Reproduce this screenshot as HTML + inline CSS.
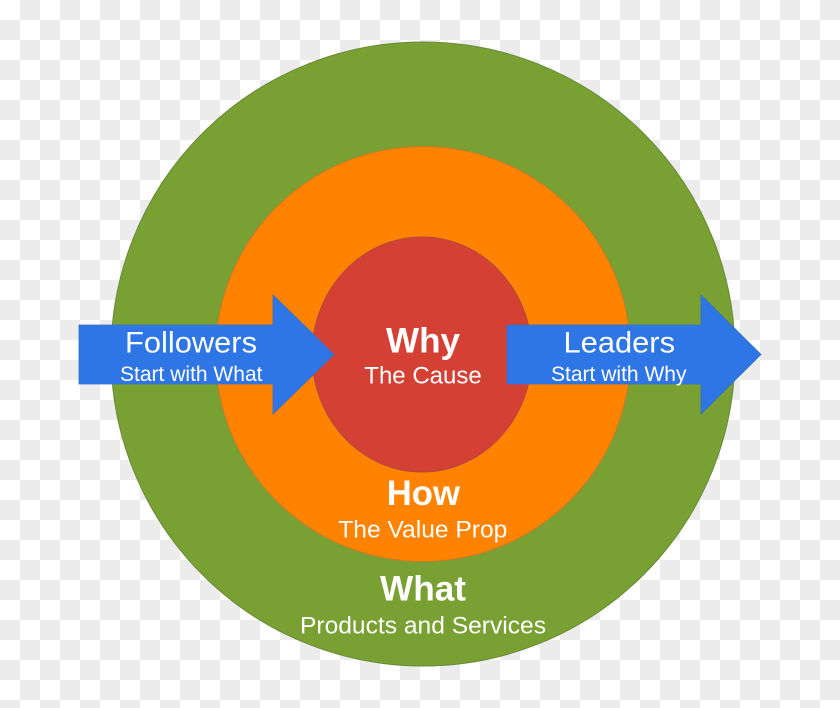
<!DOCTYPE html>
<html>
<head>
<meta charset="utf-8">
<style>
  html, body { margin: 0; padding: 0; background: #ffffff; }
  body { width: 840px; height: 708px; overflow: hidden; font-family: "Liberation Sans", Arial, Helvetica, sans-serif; }
  svg { display: block; }
  svg text { font-family: "Liberation Sans", Arial, Helvetica, sans-serif; fill: #ffffff; }
</style>
</head>
<body>
<svg width="840" height="708" viewBox="0 0 840 708" xmlns="http://www.w3.org/2000/svg" font-family="Liberation Sans, Arial, Helvetica, sans-serif">
  <defs>
    <pattern id="chk" x="0" y="0" width="40" height="40" patternUnits="userSpaceOnUse">
      <rect x="0" y="0" width="40" height="40" fill="#ffffff"/>
      <rect x="20" y="0" width="20" height="20" fill="#ececec"/>
      <rect x="0" y="20" width="20" height="20" fill="#ececec"/>
    </pattern>
  </defs>
  <rect x="0" y="0" width="840" height="708" fill="url(#chk)"/>

  <!-- Outer: What -->
  <circle cx="423" cy="354" r="312" fill="#78a032" stroke="#6a8a3a" stroke-width="1"/>
  <!-- Middle: How -->
  <circle cx="423" cy="354" r="207.5" fill="#ff8200" stroke="#c87a2a" stroke-width="1"/>
  <!-- Inner: Why -->
  <ellipse cx="422" cy="354.5" rx="110" ry="117.5" fill="#d54034" stroke="#b04a3a" stroke-width="1"/>

  <!-- Left arrow -->
  <polygon points="79,325 273,325 273,295 334,354.5 273,414 273,384 79,384" fill="#2e76e6" stroke="#3a6fbf" stroke-width="0.8"/>
  <!-- Right arrow -->
  <polygon points="507,325 701,325 701,295 761,354.5 701,414 701,384 507,384" fill="#2e76e6" stroke="#3a6fbf" stroke-width="0.8"/>

  <!-- Arrow labels -->
  <text x="125" y="352.5" font-family="Liberation Sans, Arial, sans-serif" fill="#ffffff" font-size="29.5" textLength="132" lengthAdjust="spacingAndGlyphs">Followers</text>
  <text x="120" y="381" font-family="Liberation Sans, Arial, sans-serif" fill="#ffffff" font-size="21" textLength="142.5" lengthAdjust="spacingAndGlyphs">Start with What</text>
  <text x="563.5" y="352.5" font-family="Liberation Sans, Arial, sans-serif" fill="#ffffff" font-size="29.5" textLength="111.5" lengthAdjust="spacingAndGlyphs">Leaders</text>
  <text x="551" y="381" font-family="Liberation Sans, Arial, sans-serif" fill="#ffffff" font-size="21" textLength="135.5" lengthAdjust="spacingAndGlyphs">Start with Why</text>

  <!-- Why -->
  <text x="386" y="352.7" font-family="Liberation Sans, Arial, sans-serif" fill="#ffffff" font-size="35" font-weight="bold" textLength="74" lengthAdjust="spacingAndGlyphs">Why</text>
  <text x="364.3" y="383.3" font-family="Liberation Sans, Arial, sans-serif" fill="#ffffff" font-size="24" textLength="117.4" lengthAdjust="spacingAndGlyphs">The Cause</text>

  <!-- How -->
  <text x="386.7" y="505" font-family="Liberation Sans, Arial, sans-serif" fill="#ffffff" font-size="35" font-weight="bold" textLength="73.3" lengthAdjust="spacingAndGlyphs">How</text>
  <text x="338.3" y="537.3" font-family="Liberation Sans, Arial, sans-serif" fill="#ffffff" font-size="24" textLength="169" lengthAdjust="spacingAndGlyphs">The Value Prop</text>

  <!-- What -->
  <text x="380" y="600.7" font-family="Liberation Sans, Arial, sans-serif" fill="#ffffff" font-size="35" font-weight="bold" textLength="86" lengthAdjust="spacingAndGlyphs">What</text>
  <text x="300" y="633.3" font-family="Liberation Sans, Arial, sans-serif" fill="#ffffff" font-size="24" textLength="246" lengthAdjust="spacingAndGlyphs">Products and Services</text>
</svg>
</body>
</html>
